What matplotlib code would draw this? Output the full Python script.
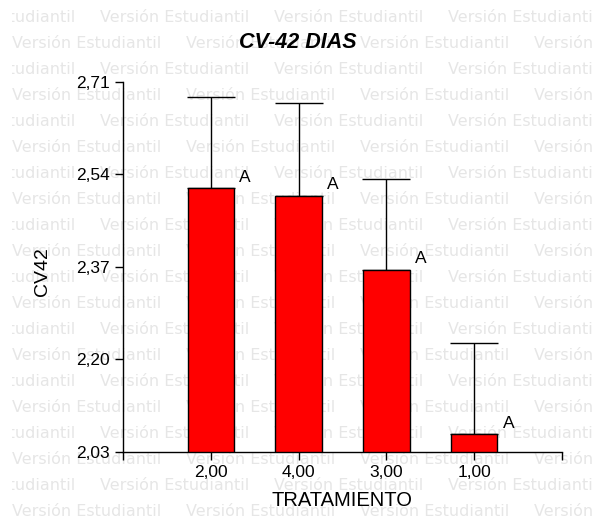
import matplotlib
matplotlib.use('Agg')
import matplotlib.pyplot as plt
import numpy as np

# datos
tratamientos = ['2,00', '4,00', '3,00', '1,00']
cv42 = [2.514, 2.500, 2.364, 2.062]
error = [0.168, 0.170, 0.168, 0.168]
letras = ['A', 'A', 'A', 'A']
yticks = [2.03, 2.20, 2.37, 2.54, 2.71]

W, H = 596, 522
fig = plt.figure(figsize=(W / 100, H / 100), dpi=100)
fig.patch.set_facecolor('white')

# marca de agua "Versión Estudiantil" (recortada entre x=12 y x=594)
bg = fig.add_axes([12 / W, 0, (594 - 12) / W, 1], zorder=-5)
bg.set_xlim(12, 594)
bg.set_ylim(H, 0)
bg.set_axis_off()
periodo = 174
for k in range(20):
    yp = 18 + 26 * k
    x0 = -74.5 if k % 2 == 0 else 12
    for n in range(5):
        xp = x0 + n * periodo
        t = bg.text(xp, yp, 'Versión Estudiantil', fontsize=11.5,
                    family='DejaVu Sans', color='#e6e6e6', ha='left',
                    va='center', clip_on=True)
        t.set_clip_box(bg.bbox)

ax = fig.add_axes([123 / W, 1 - 451.7 / H, 439 / W, 370 / H])
ax.set_facecolor('none')

x = np.arange(1, len(tratamientos) + 1)
ancho = 0.53
ax.bar(x, cv42, width=ancho, color='#ff0000', edgecolor='black', linewidth=1.0,
       zorder=2)
ax.errorbar(x, cv42, yerr=[np.zeros(len(error)), error], fmt='none',
            ecolor='black', elinewidth=1.0, capsize=17.3, capthick=1.0, zorder=1)

for xi, v, l in zip(x, cv42, letras):
    ax.annotate(l, (xi + ancho / 2, v), xytext=(8, 8), textcoords='offset points',
                ha='center', va='center', fontsize=12.5, family='Liberation Sans')

ax.set_xlim(0, 5)
ax.set_ylim(2.03, 2.71)
ax.set_xticks(x)
ax.set_xticklabels(tratamientos, fontsize=12.5, family='Liberation Sans')
ax.set_xticks([0, 5], minor=True)
ax.set_yticks(yticks)
ax.set_yticklabels([('%.2f' % t).replace('.', ',') for t in yticks],
                   fontsize=12.5, family='Liberation Sans')
ax.tick_params(axis='both', which='both', direction='out', length=6, width=1.0,
               color='black', pad=3.5)

for s in ['top', 'right']:
    ax.spines[s].set_visible(False)
for s in ['left', 'bottom']:
    ax.spines[s].set_linewidth(1.0)

ax.set_xlabel('TRATAMIENTO', fontsize=14.5, family='Liberation Sans', labelpad=8)
ax.set_ylabel('CV42', fontsize=14, family='Liberation Sans')
ax.yaxis.set_label_coords(-0.1845, 0.488)
ax.yaxis.label.set_va('center')

fig.text(0.5, 1 - 42 / H, 'CV-42 DIAS', fontsize=15.5, fontweight='bold',
         fontstyle='italic', family='Liberation Sans', ha='center', va='center')

fig.savefig('out.png', dpi=100)
